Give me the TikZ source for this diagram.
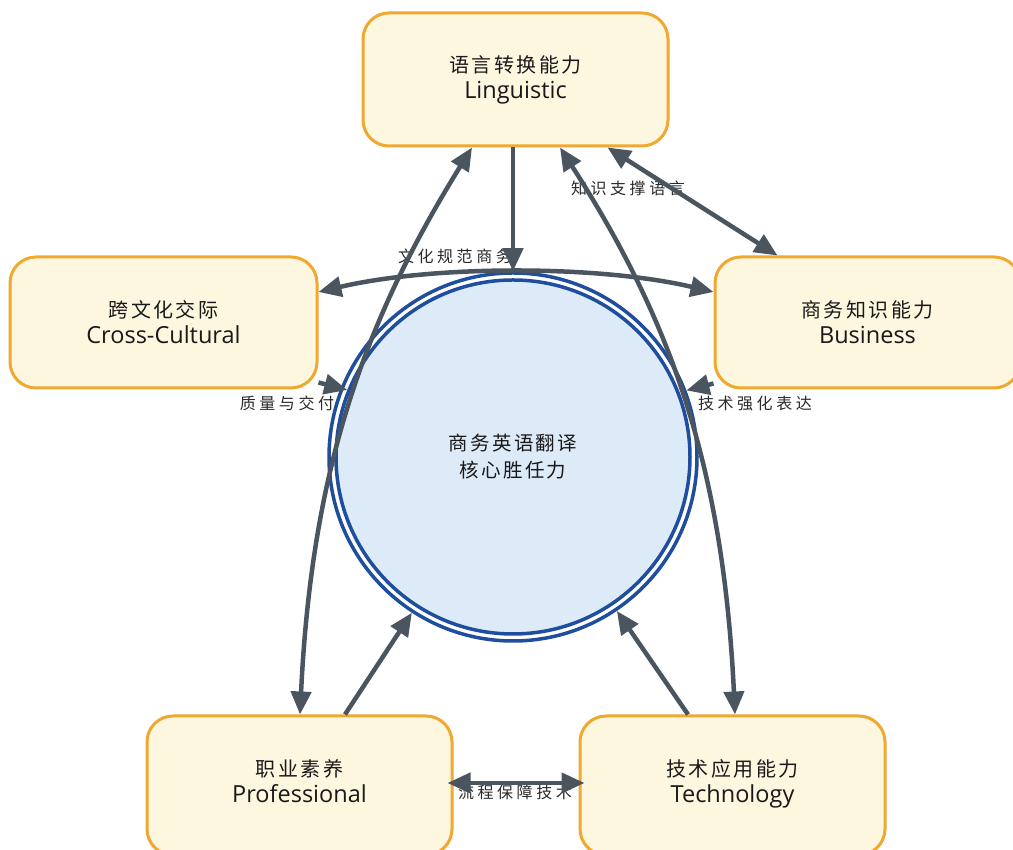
\documentclass[tikz,border=0pt]{standalone}
\usepackage{fontspec}
\newfontfamily\zhbox[LetterSpace=12]{Noto Sans CJK SC}
\newfontfamily\zhlab[LetterSpace=22]{Noto Sans CJK SC}
\newfontfamily\enfont{Open Sans}
\usetikzlibrary{arrows.meta,calc}
\definecolor{boxfill}{HTML}{FDF7E0}
\definecolor{boxline}{HTML}{F0A830}
\definecolor{ringblue}{HTML}{1F4E9E}
\definecolor{corefill}{HTML}{DDEAF7}
\definecolor{arrowcol}{HTML}{4A5560}
\definecolor{labcol}{HTML}{2A2A2A}
\tikzset{
  compbox/.style={draw=boxline, line width=3pt, fill=boxfill, rounded corners=26pt,
    minimum width=305pt, minimum height=133pt, align=center, inner sep=0pt,
    text=black!90, font=\fontsize{20}{26}\selectfont},
  conn/.style={draw=arrowcol, line width=4.5pt, -{Triangle[length=23pt,width=20pt]}},
  biconn/.style={draw=arrowcol, line width=4.5pt,
    {Triangle[length=23pt,width=20pt]}-{Triangle[length=23pt,width=20pt]}},
  lab/.style={font=\zhlab\fontsize{16}{18}\selectfont, text=labcol, inner sep=0pt},
}
\newcommand{\boxtext}[2]{{\zhbox\fontsize{20}{26}\selectfont #1}\\{\enfont\fontsize{23.5}{26}\selectfont #2}}
\newcommand{\boxtextlow}[2]{{\zhbox\fontsize{20}{26}\selectfont #1}\\{\enfont\fontsize{23.5}{26}\selectfont #2\rule[-9pt]{0pt}{1pt}}}
\begin{document}
\begin{tikzpicture}[x=1pt,y=1pt]
\useasboundingbox (0,0) rectangle (1013,850);
\clip (0,0) rectangle (1013,850);
\fill[white] (0,0) rectangle (1013,850);
% boxes
\node[compbox] (L) at (515.5,770.5) {\boxtext{语言转换能力}{Linguistic}};
\node[compbox, minimum width=307pt, minimum height=131pt] (C) at (163.5,527.5) {\boxtext{跨文化交际}{Cross-Cultural}};
\node[compbox, minimum height=131pt] (B) at (867.5,527.5) {\boxtext{商务知识能力}{Business}};
\node[compbox, minimum height=139pt] (P) at (299.5,64.5) {\boxtextlow{职业素养}{Professional}};
\node[compbox, minimum height=139pt] (T) at (732.5,64.5) {\boxtextlow{技术应用能力}{Technology}};
% core circle
\node[circle, draw=ringblue, line width=3.5pt, fill=corefill, minimum size=354pt, inner sep=0pt,
  align=center, text=black!90, font=\zhbox\fontsize{19.5}{27}\selectfont] (core) at (513,393) {商务英语翻译\\核心胜任力};
\node[circle, draw=ringblue, line width=3.5pt, minimum size=368pt, inner sep=0pt] (ring) at (core.center) {};
% labels
\node[lab] (lk) at (628,662) {知识支撑语言};
\node[lab] (lc) at (455,594) {文化规范商务};
\node[lab] (lq) at (287,447) {质量与交付};
\node[lab] (lt) at (755,447) {技术强化表达};
\node[lab] (lp) at (515,58) {流程保障技术};
% connectors
\draw[conn] (L.south -| ring.north) -- (ring.north);
\draw[biconn] ($(L.south)+(92,0)$) -- ($(B.north)+(-90,0)$);
\draw[biconn] ($(C.east)+(0,30.5)$) .. controls +(115,27) and +(-115,27) .. ($(B.west)+(0,30.5)$);
\draw[biconn] ($(P.north)+(0.5,0)$) .. controls +(12,250) and +(-106,-171) .. ($(L.south)+(-43.5,0)$);
\draw[biconn] ($(T.north)+(2.5,0)$) .. controls +(-12,250) and +(110,-171) .. ($(L.south)+(44.5,0)$);
\draw[conn] ($(P.north)+(45.5,0)$) -- (ring.237);
\draw[conn] ($(T.north)+(-44.5,0)$) -- (ring.304);
\draw[biconn, shorten <=-6pt, shorten >=-6pt] ($(P.east)+(0,2.5)$) -- ($(T.west)+(0,2.5)$);
\draw[conn] ($(C.south east)+(0,7)$) -- (core.158);
\draw[conn] ($(B.south west)+(0,6)$) -- (ring.21);
\end{tikzpicture}
\end{document}
